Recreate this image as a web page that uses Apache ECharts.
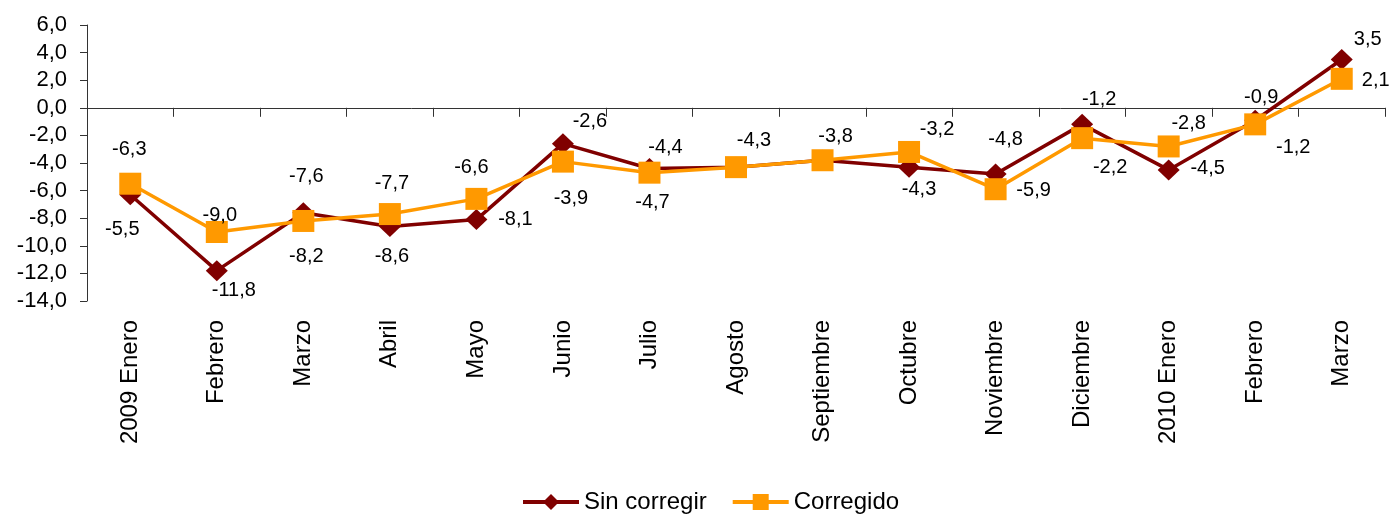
<!DOCTYPE html>
<html>
<head>
<meta charset="utf-8">
<script src="https://cdn.jsdelivr.net/npm/echarts@6/dist/echarts.min.js"></script>
<style>
html,body{margin:0;padding:0;background:#fff;}
#chart{width:1390px;height:514px;}
</style>
</head>
<body>
<div id="chart"></div>
<script>
// meses del eje
var meses = ['2009 Enero','Febrero','Marzo','Abril','Mayo','Junio','Julio','Agosto',
	'Septiembre','Octubre','Noviembre','Diciembre','2010 Enero','Febrero','Marzo'];
var sinCorregir = [-6.3,-11.8,-7.6,-8.6,-8.1,-2.6,-4.4,-4.3,-3.8,-4.3,-4.8,-1.2,-4.5,-0.9,3.5];
var corregido   = [-5.5,-9.0,-8.2,-7.7,-6.6,-3.9,-4.7,-4.3,-3.8,-3.2,-5.9,-2.2,-2.8,-1.2,2.1];
var yMin = -14, yMax = 6, yStep = 2;

// desplazamiento de cada etiqueta respecto al marcador (como en la hoja de calculo)
var offSin  = [[-1,-45],[17,20],[3,-36],[2,30],[39,0],[27,-22],[16,-21],null,null,[10,22],[10,-35],[17,-25],[39,-1],[6,-23],[26,-20]];
var offCorr = [[-8,46],[3,-17],[3,36],[2,-31],[-5,-31],[8,37],[3,30],[18,-27],[13,-24],[28,-22],[38,1],[28,29],[20,-23],[38,23],[34,2]];

var fuente = 'Liberation Sans, Arial, sans-serif';
function coma(v){ return v.toFixed(1).replace('.', ','); }

function puntos(vals, offs){
	return vals.map(function(v, i){
		var o = offs[i];
		return {
			value: v,
			label: o ? { show: true, position: 'inside', offset: o } : { show: false }
		};
	});
}

var chart = echarts.init(document.getElementById('chart'));
var option = {
	animation: false,
	grid: { left: 87, right: 5, top: 25, bottom: 213, containLabel: false },
	legend: {
		left: 521, top: 490, padding: 0,
		itemWidth: 56, itemHeight: 20, itemGap: 24,
		lineStyle: { width: 4 },
		textStyle: { fontSize: 24, color: '#000', fontFamily: fuente },
		data: ['Sin corregir', 'Corregido']
	},
	xAxis: [
		{
			type: 'category',
			data: meses,
			position: 'bottom',
			axisLine: { onZero: true, lineStyle: { color: '#333', width: 1 } },
			axisTick: { show: true, length: 9, lineStyle: { color: '#333' } },
			axisLabel: { show: false },
			splitLine: { show: false }
		},
		{
			type: 'category',
			data: meses,
			position: 'bottom',
			axisLine: { show: false, onZero: false },
			axisTick: { show: false },
			axisLabel: {
				rotate: 90, margin: 19, interval: 0,
				fontSize: 24, color: '#000', fontFamily: fuente
			},
			splitLine: { show: false }
		}
	],
	yAxis: {
		type: 'value',
		min: yMin, max: yMax, interval: yStep,
		axisLine: { show: true, lineStyle: { color: '#333', width: 1 } },
		axisTick: { show: true, length: 7, lineStyle: { color: '#333' } },
		axisLabel: {
			margin: 20, fontSize: 22, color: '#000', fontFamily: fuente,
			formatter: function(v){ return coma(v); }
		},
		splitLine: { show: false }
	},
	series: [
		{
			name: 'Sin corregir',
			type: 'line',
			xAxisIndex: 0,
			data: puntos(sinCorregir, offSin),
			symbol: 'diamond',
			symbolSize: [22, 21],
			itemStyle: { color: '#800000' },
			lineStyle: { color: '#800000', width: 3.5 },
			label: {
				fontSize: 20, color: '#000', fontFamily: fuente,
				formatter: function(p){ return coma(p.value); }
			}
		},
		{
			name: 'Corregido',
			type: 'line',
			xAxisIndex: 0,
			data: puntos(corregido, offCorr),
			symbol: 'rect',
			symbolSize: 22,
			itemStyle: { color: '#FF9900' },
			lineStyle: { color: '#FF9900', width: 3.5 },
			label: {
				fontSize: 20, color: '#000', fontFamily: fuente,
				formatter: function(p){ return coma(p.value); }
			}
		}
	]
};
chart.setOption(option);
</script>
</body>
</html>
